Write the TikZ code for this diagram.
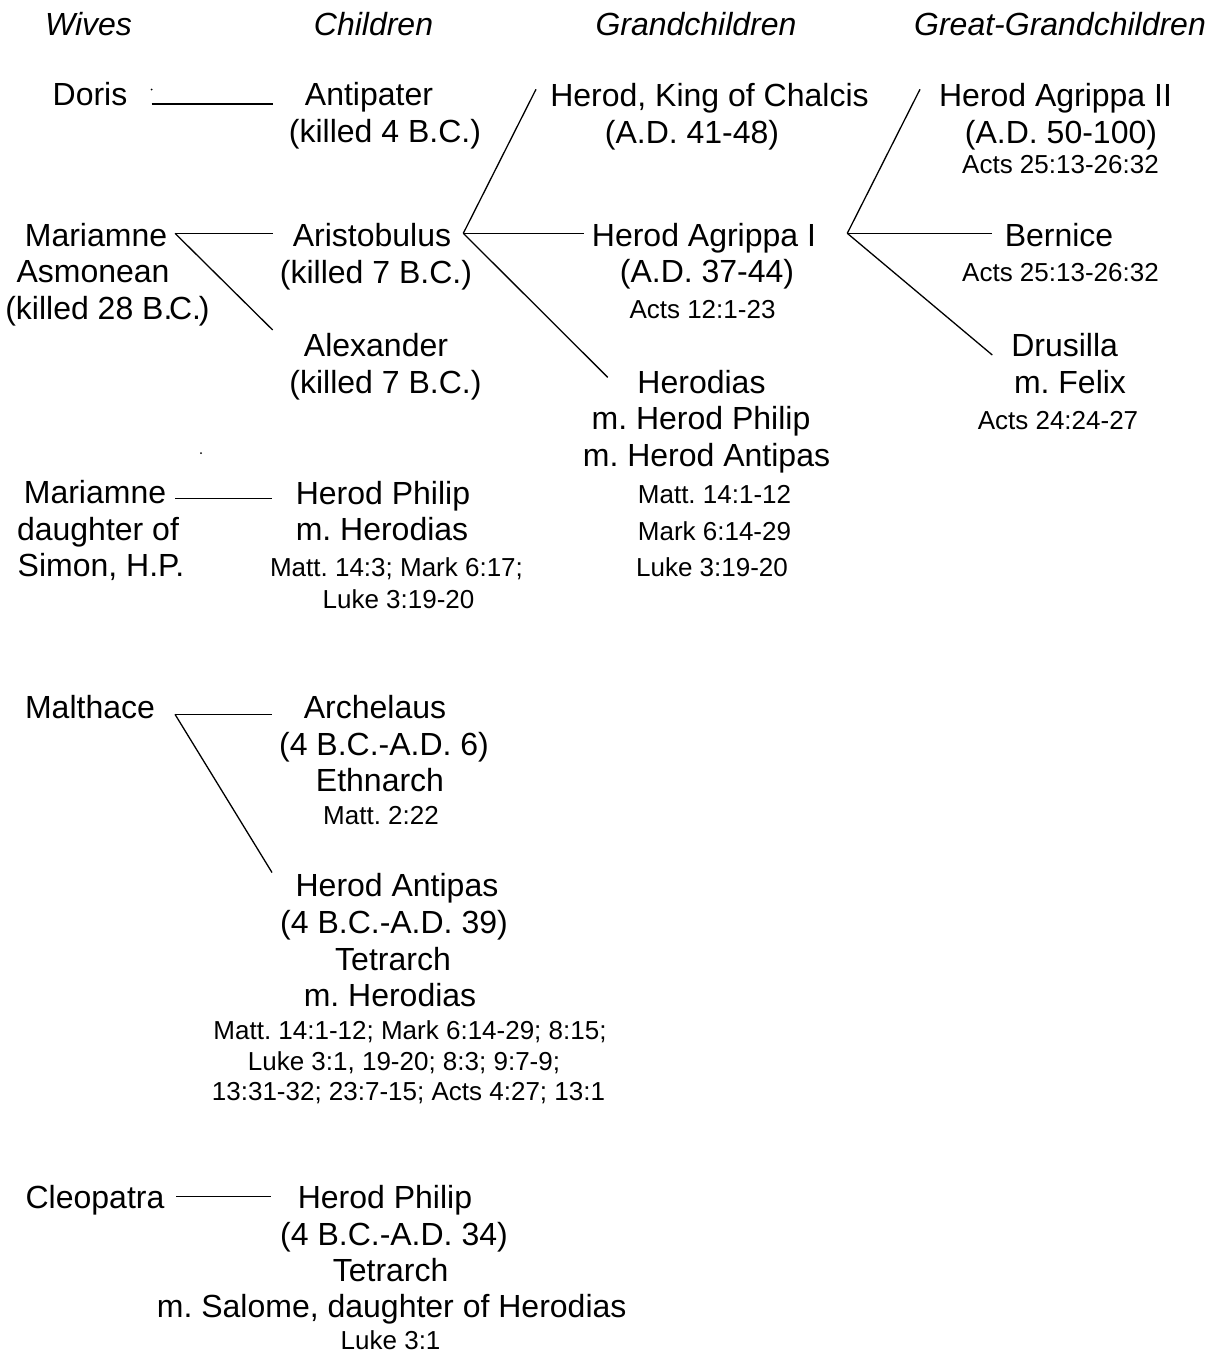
\documentclass[tikz,border=0pt]{standalone}
\usepackage{fontspec}
\setmainfont{Liberation Sans}
\frenchspacing
\begin{document}
\begin{tikzpicture}[x=1pt,y=-1pt,
  main/.style={font=\fontsize{32}{37}\selectfont, inner sep=0pt, anchor=base},
  refs/.style={font=\fontsize{26}{30}\selectfont, inner sep=0pt, anchor=base},
  head/.style={font=\fontsize{32}{37}\selectfont\itshape, inner sep=0pt, anchor=base},
  link/.style={draw=black, line width=1.3pt}]
\useasboundingbox (0,0) rectangle (1217,1355);
\frenchspacing

% headers
\node[head] (hwives) at (88.5,35.5) {Wives};
\node[head] (hchildren) at (373.5,35.5) {Children};
\node[head] (hgrand) at (696,35.5) {Grandchildren};
\node[head] (hgreat) at (1060,35.5) {Great-Grandchildren};

% wives
\node[main] (doris) at (90,105) {Doris};
\node[main] (mar1a) at (96,246) {Mariamne};
\node[main] (mar1b) at (93,282.7) {Asmonean};
\node[main] (mar1c) at (107.5,319.5) {(killed 28 B.\kern-3.5pt C.\kern-2pt)};
\node[main] (mar2a) at (95,503.5) {Mariamne};
\node[main] (mar2b) at (98,540) {daughter of};
\node[main] (mar2c) at (101,576.7) {Simon, H.P.};
\node[main] (malthace) at (90,718.3) {Malthace};
\node[main] (cleopatra) at (95,1208.3) {Cleopatra};

% children
\node[main] (antipater) at (369,105) {Antipater};
\node[main] (antipater2) at (385,142) {(killed 4 B.C.)};
\node[main] (aristobulus) at (372,246) {Aristobulus};
\node[main] (aristobulus2) at (376,283) {(killed 7 B.C.)};
\node[main] (alexander) at (376,356.7) {Alexander};
\node[main] (alexander2) at (385.5,393) {(killed 7 B.C.)};
\node[main] (philip) at (383,504) {Herod Philip};
\node[main] (philip2) at (382,540) {m. Herodias};
\node[refs] (philipref1) at (396.5,576.7) {Matt. 14:3; Mark 6:17;};
\node[refs] (philipref2) at (398.5,608.3) {Luke 3:19-20};
\node[main] (archelaus) at (375,718.3) {Archelaus};
\node[main] (archelaus2) at (384,755) {(4 B.C.-A.D. 6)};
\node[main] (archelaus3) at (380,791.7) {Ethnarch};
\node[refs] (archelausref) at (381,824) {Matt. 2:22};
\node[main] (antipas) at (397,896.7) {Herod Antipas};
\node[main] (antipas2) at (394,933.5) {(4 B.C.-A.D. 39)};
\node[main] (antipas3) at (393,970) {Tetrarch};
\node[main] (antipas4) at (390,1006.7) {m. Herodias};
\node[refs] (antipasref1) at (410,1039) {Matt. 14:1-12; Mark 6:14-29; 8:15;};
\node[refs] (antipasref2) at (404,1070) {Luke 3:1, 19-20; 8:3; 9:7-9;};
\node[refs] (antipasref3) at (408.5,1100) {13:31-32; 23:7-15; Acts 4:27; 13:1};
\node[main] (philipt) at (385,1208.3) {Herod Philip};
\node[main] (philipt2) at (394,1245) {(4 B.C.-A.D. 34)};
\node[main] (philipt3) at (390.6,1281) {Tetrarch};
\node[main] (philipt4) at (391.7,1317) {m. Salome, daughter of Herodias};
\node[refs] (philiptref) at (390.6,1349) {Luke 3:1};

% grandchildren
\node[main] (chalcis) at (709.5,106) {Herod, King of Chalcis};
\node[main] (chalcis2) at (692,143) {(A.D. 41-48)};
\node[main] (agrippa) at (704,246) {Herod Agrippa I};
\node[main] (agrippa2) at (707,282.5) {(A.D. 37-44)};
\node[refs] (agripparef) at (702.5,318.3) {Acts 12:1-23};
\node[main] (herodias) at (701.5,393) {Herodias};
\node[main] (herodias2) at (701,429.7) {m. Herod Philip};
\node[main] (herodias3) at (706.5,466.5) {m. Herod Antipas};
\node[refs] (herodiasref1) at (714.5,503.3) {Matt. 14:1-12};
\node[refs] (herodiasref2) at (714.5,540) {Mark 6:14-29};
\node[refs] (herodiasref3) at (712,576.7) {Luke 3:19-20};

% great-grandchildren
\node[main] (agrippaii) at (1055.5,106) {Herod Agrippa II};
\node[main] (agrippaii2) at (1061,143) {(A.D. 50-100)};
\node[refs] (agrippaiiref) at (1060.5,173.3) {Acts 25:13-26:32};
\node[main] (bernice) at (1059,246.5) {Bernice};
\node[refs] (berniceref) at (1060.5,281.7) {Acts 25:13-26:32};
\node[main] (drusilla) at (1064.6,356.7) {Drusilla};
\node[main] (drusilla2) at (1070,393.3) {m. Felix};
\node[refs] (drusillaref) at (1058,429.3) {Acts 24:24-27};

% connector end points
\coordinate (dorisR) at (151.7,104);
\coordinate (antipaterL) at (272.7,104);
\coordinate (mar1R) at (175,233.3);
\coordinate (aristobulusL) at (272.7,233.3);
\coordinate (alexanderL) at (272.7,330);
\coordinate (aristobulusR) at (463.3,233.3);
\coordinate (chalcisL) at (536,89.3);
\coordinate (agrippaL) at (584,233.3);
\coordinate (herodiasL) at (607.7,377.3);
\coordinate (agrippaR) at (847.3,233.3);
\coordinate (agrippaiiL) at (920,89.3);
\coordinate (berniceL) at (992.3,233.3);
\coordinate (drusillaL) at (992.3,355);
\coordinate (mar2R) at (175,498.3);
\coordinate (philipL) at (271.7,498.3);
\coordinate (malthaceR) at (175,714.3);
\coordinate (archelausL) at (271.7,714.3);
\coordinate (antipasL) at (272,872.5);
\coordinate (cleopatraR) at (176.3,1196.7);
\coordinate (philiptL) at (271.4,1196.7);

% connectors
\draw[link] (dorisR) -- (antipaterL);
\draw[link] (mar1R) -- (aristobulusL);
\draw[link] (mar1R) -- (alexanderL);
\draw[link] (aristobulusR) -- (chalcisL);
\draw[link] (aristobulusR) -- (agrippaL);
\draw[link] (aristobulusR) -- (herodiasL);
\draw[link] (agrippaR) -- (agrippaiiL);
\draw[link] (agrippaR) -- (berniceL);
\draw[link] (agrippaR) -- (drusillaL);
\draw[link] (mar2R) -- (philipL);
\draw[link] (malthaceR) -- (archelausL);
\draw[link] (malthaceR) -- (antipasL);
\draw[link] (cleopatraR) -- (philiptL);

% stray dots
\fill (151.7,89.5) circle (1pt);
\fill (201,453) circle (1pt);
\end{tikzpicture}
\end{document}
